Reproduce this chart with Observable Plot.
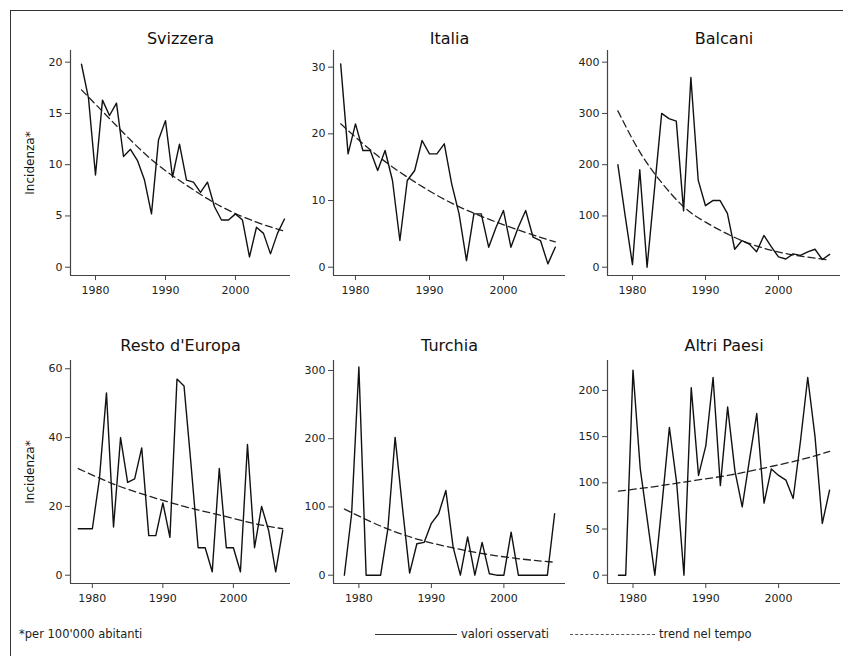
<!DOCTYPE html>
<html>
<head>
<meta charset="utf-8">
<script src="https://cdn.jsdelivr.net/npm/d3@7"></script>
<script src="https://cdn.jsdelivr.net/npm/@observablehq/plot@0.6"></script>
<style>
  body { margin: 0; background: #fff; }
  #root { position: relative; width: 843px; height: 656px; overflow: hidden; font-family: "DejaVu Sans", sans-serif; color: #222; background: #fff; }
  .frame { position: absolute; left: 10px; top: 10px; width: 900px; height: 700px; border-left: 1px solid #333; border-top: 1px solid #333; }
  .panel { position: absolute; }
  .note { position: absolute; font-size: 11.5px; white-space: nowrap; line-height: 14px; }
  .lg { position: absolute; height: 0; }
</style>
</head>
<body>
<div id="root"><div class="frame"></div></div>
<script>
// ---- data ----
const years = [1978,1979,1980,1981,1982,1983,1984,1985,1986,1987,1988,1989,1990,1991,1992,1993,1994,1995,1996,1997,1998,1999,2000,2001,2002,2003,2004,2005,2006,2007];

const svizzera = [19.8,16.5,9.0,16.3,14.8,16.0,10.8,11.5,10.4,8.5,5.2,12.4,14.3,8.8,12.0,8.5,8.3,7.3,8.3,5.9,4.6,4.6,5.2,4.6,1.0,3.9,3.3,1.3,3.3,4.7];
const italia = [30.5,17,21.5,17.5,17.5,14.5,17.5,13,4,13,14.5,19,17,17,18.5,12.5,8,1,8,8,3,6,8.5,3,6,8.5,4.5,4,0.5,3];
const balcani = [200,100,5,190,0,150,300,290,285,110,370,170,120,130,130,105,35,52,45,30,62,40,20,16,26,23,30,35,15,25];
const restoEuropa = [13.5,13.5,13.5,28,53,14,40,27,28,37,11.5,11.5,21,11,57,55,32,8,8,1,31,8,8,1,38,8,20,13,1,13];
const turchia = [0,90,305,0,0,0,68,202,100,3,46,48,76,90,124,41,0,56,0,48,2,0,0,63,0,0,0,0,0,90];
const altriPaesi = [0,0,222,115,58,0,78,160,100,0,203,108,140,214,97,182,113,74,125,175,78,115,108,103,83,145,214,150,56,92];

const trendYears = [1978,1983,1988,1993,1998,2003,2007];
const trendSvizzera = [17.3,13.8,10.5,8.0,5.9,4.4,3.5];
const trendItalia = [21.5,16.7,12.8,9.6,7.2,5.2,3.8];
const trendYearsBalcani = [1978,1981,1984,1987,1990,1994,1998,2002,2007];
const trendBalcani = [305,225,165,118,88,58,37,24,14];
const trendResto = [31,26.5,23,20,17.5,15,13.5];
const trendTurchia = [97,72,53,40,30,23,19];
const trendAltri = [91,96,102,108,116,125,134];

const xTicks = [1980,1990,2000];
const yTicksSvizzera = [0,5,10,15,20];
const yTicksItalia = [0,10,20,30];
const yTicksBalcani = [0,100,200,300,400];
const yTicksResto = [0,20,40,60];
const yTicksTurchia = [0,100,200,300];
const yTicksAltri = [0,50,100,150,200];

const titles = ["Svizzera","Italia","Balcani","Resto d'Europa","Turchia","Altri Paesi"];
const yTitle = "Incidenza*";

// ---- layout ----
const panels = [
  {title: titles[0], values: svizzera, tY: trendYears, tV: trendSvizzera, ticks: yTicksSvizzera, yDomain: [-0.81, 21.14], xDomain: [1976.43, 2007.86], left: 0, top: 0, width: 293, height: 310, mL: 70, mT: 50, mB: 35, titleDy: -12, ylab: true},
  {title: titles[1], values: italia, tY: trendYears, tV: trendItalia, ticks: yTicksItalia, yDomain: [-1.245, 32.5], xDomain: [1977.03, 2008.38], left: 293, top: 0, width: 275, height: 310, mL: 40, mT: 50, mB: 35, titleDy: -12},
  {title: titles[2], values: balcani, tY: trendYearsBalcani, tV: trendBalcani, ticks: yTicksBalcani, yDomain: [-16.2, 422.8], xDomain: [1976.58, 2008.49], left: 567, top: 0, width: 276, height: 310, mL: 40, mT: 50, mB: 35, titleDy: -12},
  {title: titles[3], values: restoEuropa, tY: trendYears, tV: trendResto, ticks: yTicksResto, yDomain: [-2.41, 62.4], xDomain: [1976.9, 2008.1], left: 0, top: 305, width: 293, height: 313, mL: 70, mT: 55, mB: 35, titleDy: -14.5, ylab: true},
  {title: titles[4], values: turchia, tY: trendYears, tV: trendTurchia, ticks: yTicksTurchia, yDomain: [-12.2, 314.6], xDomain: [1976.5, 2008.5], left: 293, top: 305, width: 275, height: 313, mL: 40, mT: 55, mB: 35, titleDy: -14.5},
  {title: titles[5], values: altriPaesi, tY: trendYears, tV: trendAltri, ticks: yTicksAltri, yDomain: [-8.97, 232.4], xDomain: [1976.5, 2008.5], left: 567, top: 305, width: 276, height: 313, mL: 40, mT: 55, mB: 35, titleDy: -14.5}
];

const root = document.getElementById("root");

for (const p of panels) {
  const obs = years.map((year, i) => ({year, v: p.values[i]}));
  const tr = p.tY.map((year, i) => ({year, v: p.tV[i]}));
  const chart = Plot.plot({
    width: p.width, height: p.height,
    marginLeft: p.mL, marginRight: 3, marginTop: p.mT, marginBottom: p.mB,
    style: {background: "transparent", fontFamily: "DejaVu Sans, sans-serif", fontSize: "11px", color: "#222", overflow: "visible"},
    x: {domain: p.xDomain},
    y: {domain: p.yDomain},
    marks: [
      Plot.axisY({ticks: p.ticks, tickSize: 5, tickPadding: 3, label: null, fontSize: 11, stroke: "#444"}),
      Plot.axisX({ticks: xTicks, tickSize: 5, tickPadding: 6, tickFormat: d => String(d), label: null, fontSize: 11, stroke: "#444"}),
      Plot.ruleX([p.xDomain[0]], {stroke: "#444", strokeWidth: 1.2}),
      Plot.ruleY([p.yDomain[0]], {stroke: "#444", strokeWidth: 1.2}),
      Plot.line(tr, {x: "year", y: "v", curve: "natural", stroke: "#222", strokeWidth: 1.3, strokeDasharray: "7,4"}),
      Plot.line(obs, {x: "year", y: "v", stroke: "#111", strokeWidth: 1.4}),
      Plot.text([p.title], {text: d => d, frameAnchor: "top", textAnchor: "middle", lineAnchor: "middle", dy: p.titleDy, fontSize: 16, fill: "#111"}),
      p.ylab ? Plot.text([yTitle], {text: d => d, frameAnchor: "left", textAnchor: "middle", lineAnchor: "middle", dx: -40, rotate: -90, fontSize: 12, fill: "#111"}) : null
    ]
  });
  const wrap = document.createElement("div");
  wrap.className = "panel";
  wrap.style.left = p.left + "px";
  wrap.style.top = p.top + "px";
  wrap.appendChild(chart);
  root.appendChild(wrap);
}

// ---- footnote & legend ----
function addNote(text, left, top) {
  const d = document.createElement("div");
  d.className = "note";
  d.textContent = text;
  d.style.left = left + "px";
  d.style.top = top + "px";
  root.appendChild(d);
}
function addLine(left, width, style) {
  const d = document.createElement("div");
  d.className = "lg";
  d.style.left = left + "px";
  d.style.top = "634px";
  d.style.width = width + "px";
  d.style.borderTop = style;
  root.appendChild(d);
}
addNote("*per 100'000 abitanti", 19, 627);
addLine(375, 82, "1px solid #333");
addNote("valori osservati", 461, 627);
addLine(570, 85, "1px dashed #555");
addNote("trend nel tempo", 659, 627);
</script>
</body>
</html>
